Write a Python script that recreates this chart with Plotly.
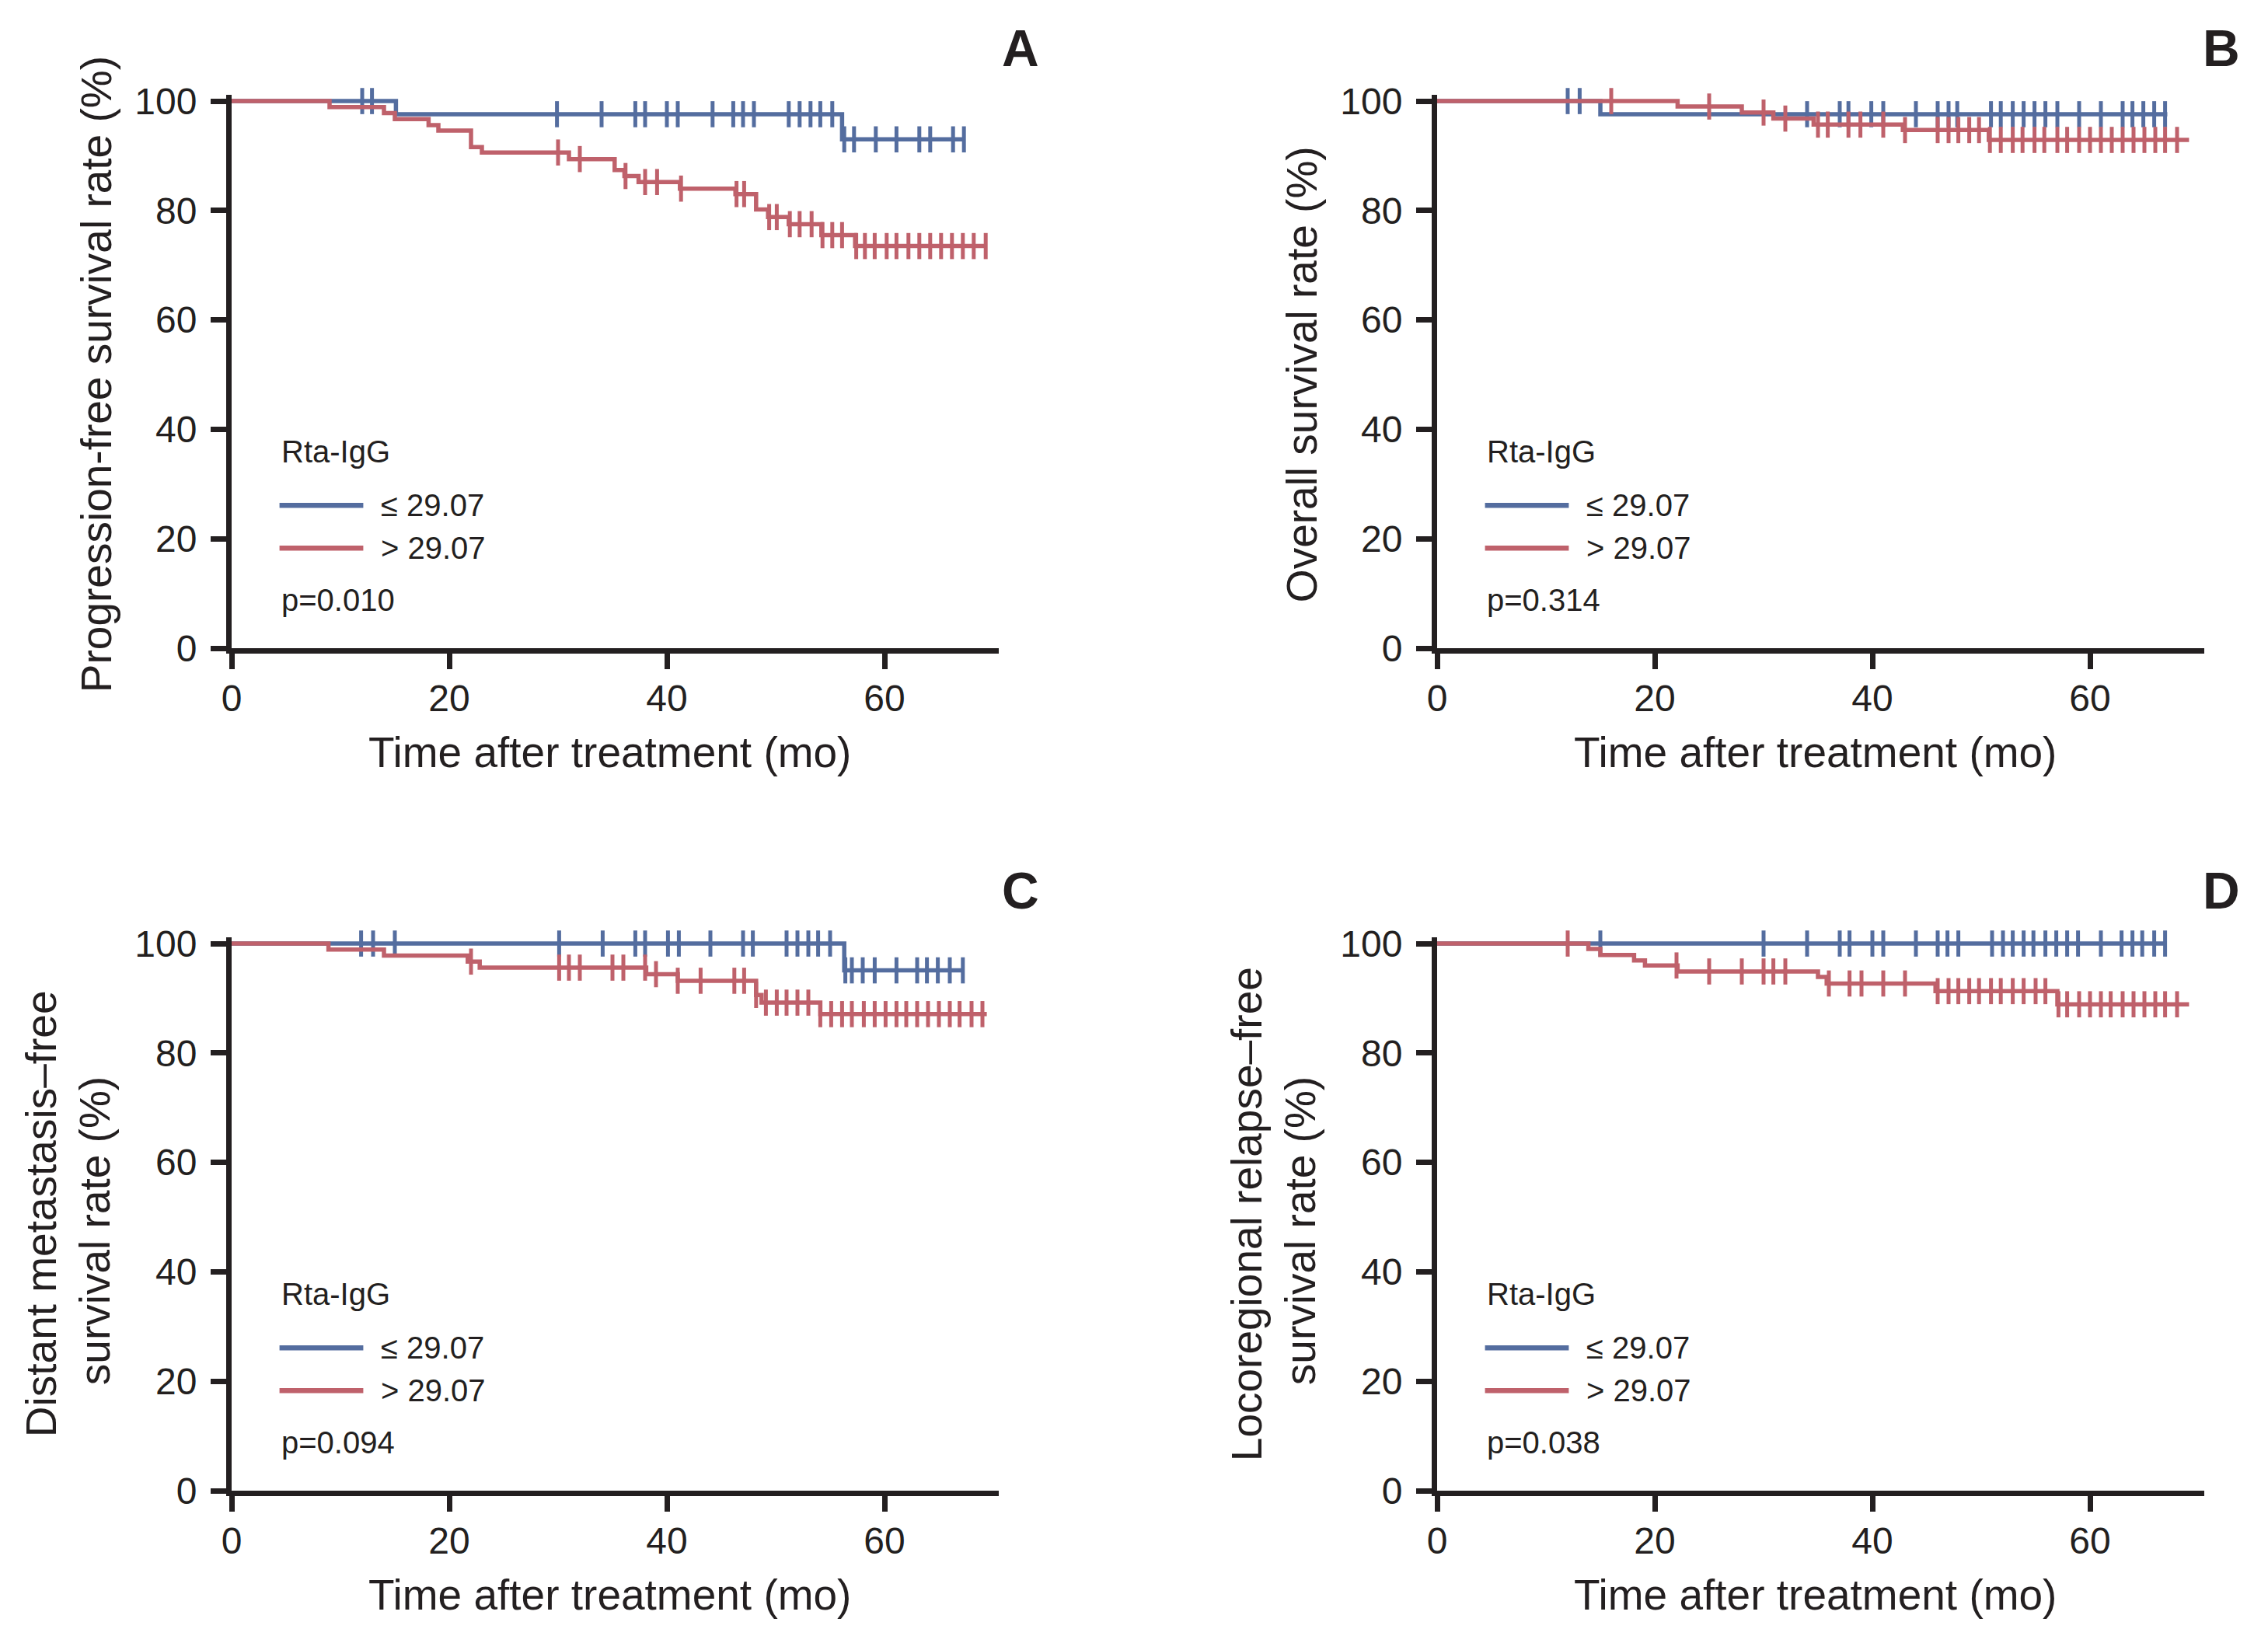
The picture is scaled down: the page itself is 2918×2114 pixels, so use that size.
import plotly.graph_objects as go

FONT = "Liberation Sans, Arial, Helvetica, sans-serif"
INK = "#231f20"
BLUE = "#546d9f"
RED = "#bf616b"

# ---------------- data ----------------
x_ticks = [0, 20, 40, 60]
y_ticks = [0, 20, 40, 60, 80, 100]
group_labels = ["\u2264 29.07", "> 29.07"]
legend_title = "Rta-IgG"
x_title = "Time after treatment (mo)"

# Panel A: progression-free survival
a_low_t = [15.1, 56.1]
a_low_s = [97.6, 93.0]
a_low_cens = [12.0, 12.9, 29.9, 34.0, 37.1, 38.0, 40.0, 41.0, 44.2, 46.1, 47.0, 48.0,
              51.2, 52.2, 53.2, 54.1, 55.2, 56.3, 57.2, 59.2, 61.1, 63.2, 64.2, 66.3, 67.3]
a_low_end = 67.4
a_high_t = [9.0, 14.0, 15.0, 18.1, 19.0, 22.0, 23.0, 31.0, 35.2, 36.1, 37.4, 41.2,
            46.3, 48.2, 49.3, 51.2, 54.2, 57.3]
a_high_s = [98.9, 97.8, 96.7, 95.6, 94.6, 91.6, 90.6, 89.4, 87.4, 86.3, 85.2, 84.0,
            83.0, 80.2, 78.8, 77.5, 75.5, 73.5]
a_high_cens = [30.0, 32.0, 36.2, 38.0, 39.1, 41.3, 46.4, 47.1, 49.4, 50.1, 51.3, 52.2,
               53.3, 54.3, 55.2, 56.1, 57.4, 58.2, 59.1, 60.2, 61.1, 62.2, 63.2, 64.2,
               65.2, 66.2, 67.2, 68.2, 69.3]
a_high_end = 69.3
a_p = "p=0.010"
a_ytitle = ["Progression-free survival rate (%)"]

# Panel B: overall survival
b_low_t = [15.0]
b_low_s = [97.6]
b_low_cens = [12.0, 13.1, 34.0, 37.0, 37.8, 39.9, 41.0, 44.0, 46.0, 47.0, 47.8, 50.9,
              51.8, 52.9, 53.9, 54.9, 55.9, 57.0, 59.0, 61.0, 63.0, 63.9, 64.9, 65.9, 66.9]
b_low_end = 67.1
b_high_t = [22.1, 28.0, 30.9, 34.6, 42.8, 50.7]
b_high_s = [99.0, 97.9, 96.8, 95.7, 94.7, 92.9]
b_high_cens = [16.0, 25.0, 30.0, 32.0, 35.0, 35.9, 37.8, 38.9, 41.0, 43.0, 46.0, 47.0,
               47.9, 48.9, 49.8, 50.8, 51.8, 52.9, 53.8, 54.9, 55.8, 57.0, 57.9, 59.0,
               60.0, 61.0, 62.0, 63.0, 64.0, 65.0, 66.0, 66.9, 68.0]
b_high_end = 69.1
b_p = "p=0.314"
b_ytitle = ["Overall survival rate (%)"]

# Panel C: distant metastasis-free survival
c_low_t = [56.3]
c_low_s = [95.1]
c_low_cens = [11.9, 13.0, 15.0, 30.1, 34.1, 37.1, 38.0, 40.1, 41.1, 44.0, 47.0, 47.9,
              51.0, 52.0, 53.0, 53.9, 55.0, 56.4, 57.0, 58.0, 59.1, 61.1, 63.0, 63.9,
              64.9, 66.0, 67.2]
c_low_end = 67.3
c_high_t = [8.9, 14.0, 21.7, 22.8, 38.1, 41.0, 48.2, 48.7, 54.1]
c_high_s = [98.9, 97.8, 96.7, 95.6, 94.4, 93.2, 90.6, 89.2, 87.1]
c_high_cens = [22.0, 30.1, 31.0, 32.0, 35.0, 36.0, 38.0, 39.0, 41.0, 43.1, 46.2, 47.1,
               48.2, 49.1, 50.1, 51.0, 52.0, 53.0, 54.1, 55.1, 56.1, 57.0, 58.1, 59.1,
               60.1, 61.1, 62.0, 63.0, 64.0, 65.0, 66.0, 66.9, 68.0, 69.0]
c_high_end = 69.4
c_p = "p=0.094"
c_ytitle = ["Distant metastasis\u2013free", "survival rate (%)"]

# Panel D: locoregional relapse-free survival
d_low_t = []
d_low_s = []
d_low_cens = [15.0, 30.0, 34.0, 37.0, 37.9, 40.0, 41.0, 44.0, 46.0, 46.9, 47.9, 51.0,
              52.0, 52.9, 53.9, 54.8, 55.9, 56.9, 57.9, 58.9, 61.0, 62.9, 63.9, 64.8,
              65.9, 66.9]
d_low_end = 67.0
d_high_t = [13.9, 15.0, 18.1, 19.1, 22.1, 35.0, 35.8, 45.8, 57.0]
d_high_s = [99.0, 97.9, 96.9, 96.0, 94.9, 93.9, 92.7, 91.3, 88.9]
d_high_cens = [12.0, 22.0, 25.0, 28.0, 30.0, 30.9, 32.0, 36.0, 37.9, 39.0, 41.0, 43.0,
               46.0, 47.0, 47.9, 48.9, 49.8, 50.9, 51.8, 52.9, 53.9, 55.0, 55.9, 57.1,
               57.9, 59.0, 60.0, 61.0, 61.9, 63.0, 64.0, 65.0, 66.0, 66.9, 68.0]
d_high_end = 69.1
d_p = "p=0.038"
d_ytitle = ["Locoregional relapse\u2013free", "survival rate (%)"]

# ---------------- layout geometry (page pixels) ----------------
OFF = 8
W, H = 2918 - 2 * OFF, 2114 - 2 * OFF


def fx(px):
    return (px - OFF) / W


def fy(py):
    return 1 - (py - OFF) / H


X_RANGE = [0, 70.5]
Y_RANGE = [0, 101.1]

panels = [
    dict(letter="A", low=(a_low_t, a_low_s, a_low_cens, a_low_end),
         high=(a_high_t, a_high_s, a_high_cens, a_high_end), p=a_p, yt=a_ytitle,
         x0=298, x1=1285, yb=834, ytp=122.3),
    dict(letter="B", low=(b_low_t, b_low_s, b_low_cens, b_low_end),
         high=(b_high_t, b_high_s, b_high_cens, b_high_end), p=b_p, yt=b_ytitle,
         x0=1849, x1=2836, yb=834, ytp=122.3),
    dict(letter="C", low=(c_low_t, c_low_s, c_low_cens, c_low_end),
         high=(c_high_t, c_high_s, c_high_cens, c_high_end), p=c_p, yt=c_ytitle,
         x0=298, x1=1285, yb=1918, ytp=1206.3),
    dict(letter="D", low=(d_low_t, d_low_s, d_low_cens, d_low_end),
         high=(d_high_t, d_high_s, d_high_cens, d_high_end), p=d_p, yt=d_ytitle,
         x0=1849, x1=2836, yb=1918, ytp=1206.3),
]


def surv_at(t, times, vals):
    s = 100.0
    for ti, vi in zip(times, vals):
        if ti <= t:
            s = vi
    return s


fig = go.Figure()
layout = dict(template="none", width=W, height=H, autosize=False,
              margin=dict(l=0, r=0, t=0, b=0, pad=0, autoexpand=False),
              paper_bgcolor="white", plot_bgcolor="white", showlegend=False,
              font=dict(family=FONT, color=INK))
annotations = []
shapes = []

for i, pn in enumerate(panels, start=1):
    sfx = "" if i == 1 else str(i)
    xa, ya = "x" + sfx, "y" + sfx
    for (times, vals, cens, end), color in ((pn["low"], BLUE), (pn["high"], RED)):
        last = vals[-1] if vals else 100.0
        fig.add_trace(go.Scatter(
            x=[0] + list(times) + [end], y=[100] + list(vals) + [last],
            mode="lines", line=dict(color=color, width=5.5, shape="hv"),
            xaxis=xa, yaxis=ya, hoverinfo="skip", cliponaxis=False))
        fig.add_trace(go.Scatter(
            x=cens, y=[surv_at(c, times, vals) for c in cens], mode="markers",
            marker=dict(symbol="line-ns", size=24, color=color,
                        line=dict(color=color, width=5)),
            xaxis=xa, yaxis=ya, hoverinfo="skip", cliponaxis=False))

    axcommon = dict(showgrid=False, zeroline=False, showline=True, linewidth=7,
                    linecolor=INK, ticks="outside", ticklen=20, tickwidth=7,
                    tickcolor=INK, automargin=False,
                    tickfont=dict(family=FONT, size=48, color=INK))
    layout["xaxis" + sfx] = dict(axcommon, domain=[fx(pn["x0"]), fx(pn["x1"])],
                                 range=X_RANGE, tickvals=x_ticks, anchor=ya,
                                 ticklabelstandoff=-4)
    layout["yaxis" + sfx] = dict(axcommon, domain=[fy(pn["yb"]), fy(pn["ytp"])],
                                 range=Y_RANGE, tickvals=y_ticks, anchor=xa,
                                 ticklabelstandoff=8)

    # legend block inside the panel
    annotations.append(dict(x=4.4, y=35.9, xref=xa, yref=ya, text=legend_title,
                            showarrow=False, xanchor="left", yanchor="middle",
                            font=dict(size=40)))
    for lab, yv, color in ((group_labels[0], 26.1, BLUE), (group_labels[1], 18.3, RED)):
        shapes.append(dict(type="line", xref=xa, yref=ya, x0=4.4, x1=12.1, y0=yv, y1=yv,
                           line=dict(color=color, width=6.5)))
        annotations.append(dict(x=13.6, y=yv, xref=xa, yref=ya, text=lab,
                                showarrow=False, xanchor="left", yanchor="middle",
                                font=dict(size=40)))
    annotations.append(dict(x=4.4, y=8.8, xref=xa, yref=ya, text=pn["p"],
                            showarrow=False, xanchor="left", yanchor="middle",
                            font=dict(size=40)))

    # panel letter
    annotations.append(dict(x=fx(pn["x0"] + 1015 if i in (1, 3) else pn["x0"] + 1009),
                            y=fy(pn["yb"] - 772), xref="paper", yref="paper",
                            text="<b>%s</b>" % pn["letter"], showarrow=False,
                            xanchor="center", yanchor="middle",
                            font=dict(size=66, color=INK)))
    # x title
    annotations.append(dict(x=fx(pn["x0"] + 486), y=fy(pn["yb"] + 134), xref="paper",
                            yref="paper", text=x_title, showarrow=False,
                            xanchor="center", yanchor="middle", font=dict(size=55)))
    # y title
    cy = (pn["yb"] + pn["ytp"]) / 2 + 4
    if len(pn["yt"]) == 1:
        annotations.append(dict(x=fx(pn["x0"] - 174), y=fy(cy), xref="paper",
                                yref="paper", text=pn["yt"][0], textangle=-90,
                                showarrow=False, xanchor="center", yanchor="middle",
                                font=dict(size=55)))
    else:
        for txt, dx, dy in ((pn["yt"][0], -245, -4), (pn["yt"][1], -176, 18)):
            annotations.append(dict(x=fx(pn["x0"] + dx), y=fy(cy + dy), xref="paper",
                                    yref="paper", text=txt, textangle=-90,
                                    showarrow=False, xanchor="center",
                                    yanchor="middle", font=dict(size=55)))

layout["annotations"] = annotations
layout["shapes"] = shapes
fig.update_layout(**layout)
fig.write_html("out.html")
